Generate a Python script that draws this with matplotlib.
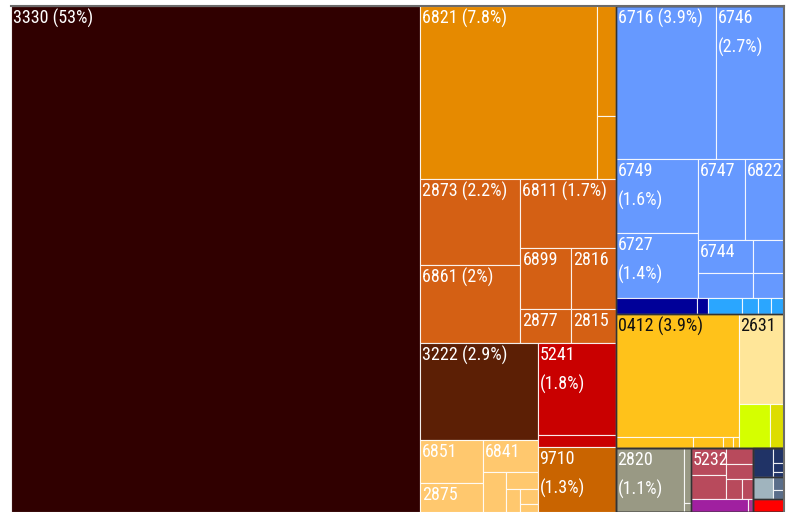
import matplotlib
matplotlib.use("Agg")
import matplotlib.pyplot as plt
from matplotlib import font_manager
from matplotlib.patches import Rectangle

# product code (blank = box too small to carry a label), share of total (%), colour group
codes = ["3330",
         "6821", "", "",
         "2873", "6861", "6811", "6899", "2877", "2816", "2815",
         "3222", "6851", "2875", "6841", "", "", "", "", "",
         "5241", "", "9710",
         "6716", "6746", "6749", "6727", "6747", "6822", "6744", "", "", "",
         "", "", "", "", "", "",
         "0412", "", "", "", "", "2631", "", "",
         "2820", "", "",
         "5232", "", "", "", "", "", "", "",
         "", "", "", "", "", "", "", ""]
shares = [52.9,
          7.84, 0.52, 0.30,
          2.20, 1.99, 1.66, 0.80, 0.43, 0.70, 0.38,
          2.94, 0.68, 0.47, 0.44, 0.235, 0.137, 0.082, 0.067, 0.036,
          1.84, 0.24, 1.30,
          3.92, 2.66, 1.56, 1.37, 0.98, 0.81, 0.46, 0.34, 0.26, 0.19,
          0.34, 0.046, 0.143, 0.067, 0.055, 0.055,
          3.88, 0.208, 0.081, 0.027, 0.015, 1.05, 0.35, 0.156,
          1.13, 0.092, 0.015,
          0.245, 0.216, 0.109, 0.109, 0.082, 0.056, 0.184, 0.016,
          0.15, 0.042, 0.026, 0.015, 0.112, 0.037, 0.025, 0.10]
groups = (["maroon"]
          + ["orange"] * 3
          + ["rust"] * 7
          + ["brown"] + ["peach"] * 8
          + ["red"] * 2 + ["amber"]
          + ["blue"] * 10
          + ["navy"] * 2 + ["sky"] * 4
          + ["gold"] * 5 + ["cream", "lime", "olive"]
          + ["grey"] * 3
          + ["rose"] * 6 + ["purple", "plum"]
          + ["indigo"] * 4 + ["slate", "steel", "steel", "scarlet"])

fills = {"maroon": "#300000", "orange": "#e68a00", "rust": "#d46014",
         "brown": "#5c1f05", "peach": "#ffc86e", "red": "#c90000",
         "amber": "#c96400", "blue": "#6699ff", "navy": "#000099",
         "sky": "#2aa6ff", "gold": "#ffc21a", "cream": "#ffe699",
         "lime": "#d5ff00", "olive": "#dddd00", "grey": "#999984",
         "rose": "#b84a5c", "purple": "#a020a0", "plum": "#b03090",
         "indigo": "#203366", "slate": "#a0b4be", "steel": "#5a6e8a",
         "scarlet": "#ff0000"}
dark_text = {"gold", "cream"}

# nested slicing: 'h' = side by side, 'v' = stacked; ints index the arrays above
layout = ("h", [
    0,
    ("v", [
        ("h", [1, ("v", [2, 3])]),
        ("h", [("v", [4, 5]),
               ("v", [6, ("h", [("v", [7, 8]), ("v", [9, 10])])])]),
        ("h", [("v", [11, ("h", [("v", [12, 13]),
                                 ("v", [14, ("h", [15, ("v", [16, ("h", [17, ("v", [18, 19])])])])])])]),
               ("v", [20, 21, 22])]),
    ]),
    ("v", [
        ("v", [("h", [23, 24]),
               ("h", [("v", [25, 26]),
                      ("v", [("h", [27, 28]), ("h", [("v", [29, 30]), ("v", [31, 32])])])]),
               ("h", [33, 34, 35, 36, 37, 38])], True),
        ("h", [("v", [39, ("h", [40, 41, 42, 43])]), ("v", [44, ("h", [45, 46])])], True),
        ("h", [("h", [47, ("v", [48, 49])], True),
               ("v", [("h", [("v", [50, 51]), ("v", [52, 53, ("h", [54, 55])])]),
                      ("h", [56, 57])], True),
               ("v", [("h", [58, ("v", [59, 60, 61])], True),
                      ("h", [62, ("v", [63, 64])], True),
                      ("h", [65], True)], True)], True),
    ], True),
])

# prefer a narrow face for the labels; fall back to a plain sans at a smaller size
installed = {(f.name, f.stretch) for f in font_manager.fontManager.ttflist}
installed_names = {n for n, _ in installed}
label_font, label_size = "Liberation Sans", 11.5
for cand in ("Roboto Condensed", "Liberation Sans Narrow", "Open Sans Condensed"):
    if cand in installed_names:
        label_font, label_size = cand, 13
        break
else:
    if ("DejaVu Sans", "condensed") in installed:
        label_font, label_size = "DejaVu Sans", 12


def total(node):
    if isinstance(node, int):
        return shares[node]
    return sum(total(k) for k in node[1])


leaf_boxes = {}
outlines = []


def place(node, x, y, w, h):
    if isinstance(node, int):
        leaf_boxes[node] = (x, y, w, h)
        return
    direction, kids = node[0], node[1]
    if len(node) > 2 and node[2]:
        outlines.append((x, y, w, h))
    s = total(node)
    pos = 0.0
    for k in kids:
        t = total(k)
        if direction == "h":
            place(k, x + w * pos / s, y, w * t / s, h)
        else:
            place(k, x, y + h * pos / s, w, h * t / s)
        pos += t


place(layout, 0.0, 0.0, 1.0, 1.0)

fig = plt.figure(figsize=(7.95, 5.12), dpi=100)
ax = fig.add_axes([11 / 795, 0, 773 / 795, 506 / 512])
ax.set_xlim(0, 1)
ax.set_ylim(1, 0)
ax.set_xticks([])
ax.set_yticks([])
for side in ("left", "bottom"):
    ax.spines[side].set_visible(False)
for side in ("top", "right"):
    ax.spines[side].set_color("#6b6b6b")
    ax.spines[side].set_linewidth(1.5)

for i, (x, y, w, h) in leaf_boxes.items():
    ax.add_patch(Rectangle((x, y), w, h, facecolor=fills[groups[i]],
                           edgecolor=(1, 1, 1, 0.85), linewidth=0.8))
for x, y, w, h in outlines:
    ax.add_patch(Rectangle((x, y), w, h, fill=False, edgecolor="#333333",
                           linewidth=1.0))

renderer = fig.canvas.get_renderer()
ax_w = 773
for i, (x, y, w, h) in leaf_boxes.items():
    if not codes[i]:
        continue
    txt = codes[i]
    pct = ""
    if shares[i] >= 1.1:
        pct = "({}%)".format(format(shares[i], ".2g"))
        txt = codes[i] + " " + pct
    colour = "#111111" if groups[i] in dark_text else "white"
    t = ax.annotate(txt, (x, y), xytext=(2, -3), textcoords="offset pixels",
                    ha="left", va="top", fontsize=label_size, color=colour,
                    family=label_font, stretch="condensed", linespacing=1.75)
    if pct and t.get_window_extent(renderer).width + 3 > w * ax_w:
        t.set_text(codes[i] + "\n" + pct)

fig.savefig("out.png", dpi=100)
